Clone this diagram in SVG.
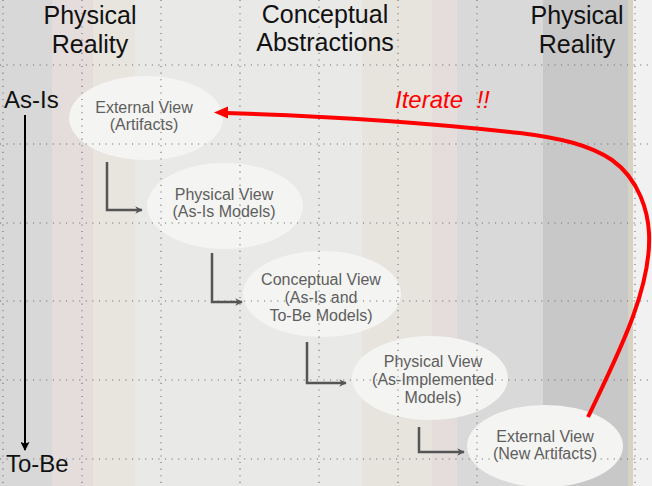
<svg xmlns="http://www.w3.org/2000/svg" width="652" height="486" viewBox="0 0 652 486">
<defs>
<style>
.title{font-family:"Liberation Sans",Arial,sans-serif;font-size:25px;fill:#111;text-anchor:middle}
.side{font-family:"Liberation Sans",Arial,sans-serif;font-size:24px;fill:#111}
.node ellipse{fill:#f4f4f2}
.node text{font-family:"Liberation Sans",Arial,sans-serif;font-size:16px;fill:#5e5e5e;text-anchor:middle}
.grid line{stroke:#6e6e6e;stroke-width:1.1;stroke-dasharray:1.1 5.5}
.conn{fill:none;stroke:#555;stroke-width:2.5}
</style>
<marker id="ah" viewBox="0 0 10 10" refX="9" refY="5" markerWidth="3" markerHeight="3" orient="auto" markerUnits="strokeWidth">
<path d="M0,0 L10,5 L0,10 L3,5 Z" fill="#555"/>
</marker>
<marker id="bk" viewBox="0 0 10 10" refX="9" refY="5" markerWidth="4.5" markerHeight="4.5" orient="auto" markerUnits="strokeWidth">
<path d="M0,0 L10,5 L0,10 L2,5 Z" fill="#000"/>
</marker>
</defs>
<g id="background">
<rect x="0" y="0" width="52" height="486" fill="#d8d8d8"/>
<rect x="52" y="0" width="41" height="486" fill="#e5dddc"/>
<rect x="93" y="0" width="42" height="486" fill="#e7e5dd"/>
<rect x="135" y="0" width="227" height="486" fill="#e9e9e8"/>
<rect x="362" y="0" width="70" height="486" fill="#e6e4dd"/>
<rect x="432" y="0" width="25" height="486" fill="#e5dcdc"/>
<rect x="457" y="0" width="86" height="486" fill="#d9d9d9"/>
<rect x="543" y="0" width="85" height="486" fill="#c8c8c8"/>
<rect x="628" y="0" width="5" height="486" fill="#d6d2c4"/>
<rect x="633" y="0" width="19" height="486" fill="#f1f1f1"/>
</g>
<g id="node-external-asis" class="node">
<ellipse cx="146" cy="118" rx="77" ry="42"/>
</g>
<g id="node-physical-asis" class="node">
<ellipse cx="225" cy="206" rx="78" ry="43"/>
</g>
<g id="node-conceptual" class="node">
<ellipse cx="322" cy="294" rx="79" ry="43"/>
</g>
<g id="node-physical-impl" class="node">
<ellipse cx="430" cy="378" rx="78" ry="42"/>
</g>
<g id="node-external-new" class="node">
<ellipse cx="545" cy="446" rx="78" ry="41"/>
</g>
<g id="grid" class="grid">
<line x1="3" y1="0" x2="3" y2="486"/>
<line x1="82" y1="0" x2="82" y2="486"/>
<line x1="161" y1="0" x2="161" y2="486"/>
<line x1="240" y1="0" x2="240" y2="486"/>
<line x1="319" y1="0" x2="319" y2="486"/>
<line x1="398" y1="0" x2="398" y2="486"/>
<line x1="477" y1="0" x2="477" y2="486"/>
<line x1="635" y1="0" x2="635" y2="486"/>
<line x1="0" y1="65" x2="652" y2="65"/>
<line x1="0" y1="144" x2="652" y2="144"/>
<line x1="0" y1="223" x2="652" y2="223"/>
<line x1="0" y1="301" x2="652" y2="301"/>
<line x1="0" y1="380" x2="652" y2="380"/>
<line x1="0" y1="459" x2="652" y2="459"/>
</g>
<g id="headers">
<text class="title" x="90" y="24">Physical</text>
<text class="title" x="90" y="53">Reality</text>
<text class="title" x="325" y="23">Conceptual</text>
<text class="title" x="325" y="51">Abstractions</text>
<text class="title" x="577" y="24">Physical</text>
<text class="title" x="577" y="53">Reality</text>
<text class="side" x="4" y="108">As-Is</text>
<text class="side" x="6" y="472">To-Be</text>
</g>
<g id="labels" class="node">
<text x="144" y="113">External View</text>
<text x="144" y="130">(Artifacts)</text>
<text x="224" y="200">Physical View</text>
<text x="224" y="217">(As-Is Models)</text>
<text x="321" y="285">Conceptual View</text>
<text x="321" y="303">(As-Is and</text>
<text x="321" y="321">To-Be Models)</text>
<text x="433" y="367">Physical View</text>
<text x="433" y="385">(As-Implemented</text>
<text x="433" y="403">Models)</text>
<text x="545" y="442">External View</text>
<text x="545" y="459">(New Artifacts)</text>
</g>
<g id="connectors">
<path class="conn" d="M107,162 V210 H142" marker-end="url(#ah)"/>
<path class="conn" d="M212,253 V302 H242" marker-end="url(#ah)"/>
<path class="conn" d="M307,342 V383 H346" marker-end="url(#ah)"/>
<path class="conn" d="M419,427 V452 H464" marker-end="url(#ah)"/>
<line x1="25" y1="115" x2="25" y2="450" stroke="#000" stroke-width="2" marker-end="url(#bk)"/>
<path d="M588,417 C615,360 652,290 649,233 C648,213 640,180 612,160 C590,145 560,138 520,133 C440,124 330,116 226,113" fill="none" stroke="#f00" stroke-width="4"/>
<path d="M214,112.5 L228,106.5 L228,118.5 Z" fill="#f00"/>
<text x="395" y="108" font-family="Liberation Sans, Arial, sans-serif" font-size="24" font-style="italic" fill="#f00" xml:space="preserve">Iterate  !!</text>
</g>
</svg>
